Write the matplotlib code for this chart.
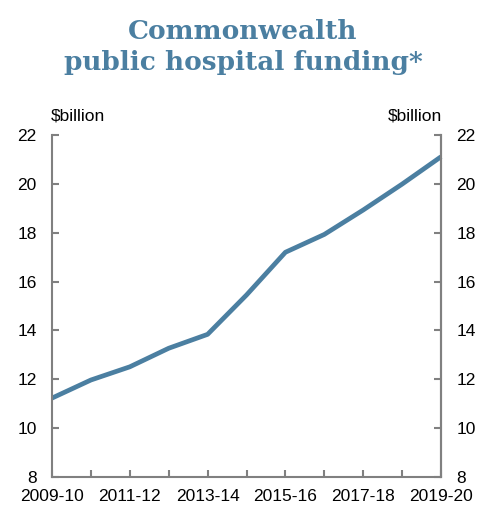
import matplotlib
matplotlib.use("Agg")
import matplotlib.pyplot as plt

years = ["2009-10", "2010-11", "2011-12", "2012-13", "2013-14", "2014-15",
         "2015-16", "2016-17", "2017-18", "2018-19", "2019-20"]
funding = [11.23, 11.97, 12.51, 13.27, 13.84, 15.45, 17.2, 17.93, 18.93, 19.99, 21.11]
yticks = [8, 10, 12, 14, 16, 18, 20, 22]

plt.rcParams['font.family'] = ['Liberation Sans', 'DejaVu Sans']
line_color = '#4b7fa1'
spine_color = '#808080'
fs = 12.5

fig = plt.figure(figsize=(5.0, 5.13), dpi=100)
ax = fig.add_axes([0.104, 0.0702, 0.778, 0.6666])
x = list(range(len(years)))
ax.plot(x, funding, color=line_color, lw=3.4, solid_capstyle='butt', clip_on=False)
ax.set_xlim(0, len(years) - 1)
ax.set_ylim(8, 22)
ax.set_yticks(yticks)
ax.set_xticks(x)
ax.set_xticklabels([y if i % 2 == 0 else "" for i, y in enumerate(years)])
for s in ['top']:
    ax.spines[s].set_visible(False)
for s in ['left', 'bottom', 'right']:
    ax.spines[s].set_color(spine_color)
    ax.spines[s].set_linewidth(1.5)
ax.tick_params(axis='both', direction='in', length=5, width=1.5, color=spine_color,
               labelsize=fs)
ax.tick_params(axis='x', pad=9)
ax.tick_params(axis='y', pad=11)

ax2 = ax.twinx()
ax2.set_ylim(8, 22)
ax2.set_yticks(yticks)
for s in ['top', 'left', 'bottom']:
    ax2.spines[s].set_visible(False)
ax2.spines['right'].set_color(spine_color)
ax2.spines['right'].set_linewidth(1.5)
ax2.tick_params(axis='y', direction='in', length=5, width=1.5, color=spine_color,
                labelsize=fs, pad=11)

fig.text(0.102, 1 - 116 / 513, "\\$billion", ha='left', va='center', fontsize=fs)
fig.text(0.884, 1 - 116 / 513, "\\$billion", ha='right', va='center', fontsize=fs)

fig.text(0.486, 1 - 47 / 513, "Commonwealth\npublic hospital funding*", ha='center',
         va='center', fontsize=19, fontweight='bold', color=line_color,
         family='DejaVu Serif', linespacing=1.3)

fig.savefig("out.png", dpi=100)
